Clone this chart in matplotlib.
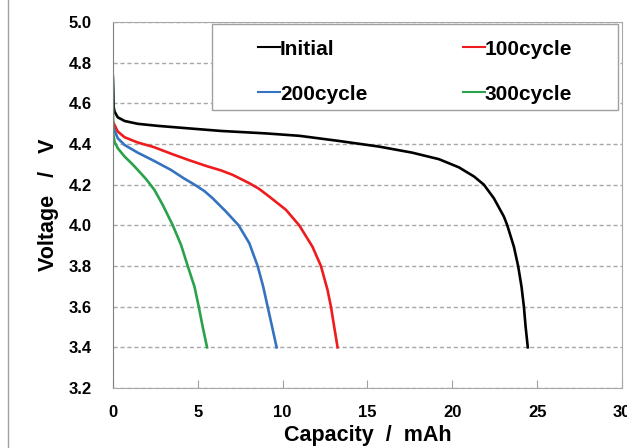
# discharge curves: capacity fade over cycling
import matplotlib
matplotlib.use("Agg")
import matplotlib.pyplot as plt
from matplotlib.lines import Line2D
from matplotlib.patches import Rectangle

plt.rcParams['font.family'] = ['Liberation Sans', 'DejaVu Sans']

# capacity (mAh) / voltage (V)
cap_initial = [0.0, 0.05, 0.1, 0.29, 0.69, 1.47, 2.65, 4.41, 6.37, 9.0, 11.0, 13.3, 15.69, 17.65, 19.22,
               20.39, 21.28, 21.86, 22.45, 23.04, 23.24, 23.63, 23.88, 24.08, 24.22, 24.32, 24.45]
v_initial = [4.735, 4.58, 4.559, 4.531, 4.513, 4.499, 4.489, 4.477, 4.464, 4.452, 4.44, 4.415, 4.387, 4.357, 4.325,
             4.285, 4.24, 4.20, 4.133, 4.043, 4.00, 3.895, 3.80, 3.698, 3.60, 3.502, 3.40]

cap_100 = [0.0, 0.29, 0.69, 1.47, 2.4, 3.5, 4.5, 5.49, 6.37, 7.06, 8.04, 8.6, 9.22, 10.2, 10.98, 11.76,
           12.26, 12.65, 12.85, 13.04, 13.24]
v_100 = [4.51, 4.461, 4.433, 4.407, 4.385, 4.35, 4.32, 4.292, 4.27, 4.248, 4.207, 4.18, 4.141, 4.076, 4.00, 3.895,
         3.80, 3.682, 3.60, 3.502, 3.40]

cap_200 = [0.0, 0.29, 0.69, 1.47, 2.4, 3.43, 4.2, 4.81, 5.4, 5.88, 6.67, 7.41, 8.04, 8.53, 8.86, 9.12, 9.38, 9.65]
v_200 = [4.486, 4.428, 4.395, 4.357, 4.318, 4.272, 4.23, 4.20, 4.168, 4.133, 4.067, 4.00, 3.912, 3.80, 3.698, 3.60,
         3.502, 3.40]

cap_300 = [0.0, 0.02, 0.1, 0.29, 0.69, 1.1, 1.47, 1.95, 2.45, 2.94, 3.53, 4.02, 4.41, 4.81, 5.06, 5.29, 5.55]
v_300 = [4.715, 4.45, 4.41, 4.379, 4.338, 4.305, 4.272, 4.228, 4.174, 4.10, 4.00, 3.903, 3.80, 3.698, 3.60, 3.502,
         3.40]

fig = plt.figure(figsize=(6.27, 4.48), dpi=100)
ax = fig.add_axes([0.180, 0.134, 0.812, 0.817])

ax.plot(cap_initial, v_initial, color='black', lw=1.9, label='Initial')
ax.plot(cap_100, v_100, color='#ee1c1c', lw=1.9, label='100cycle')
ax.plot(cap_200, v_200, color='#3573c0', lw=1.9, label='200cycle')
ax.plot(cap_300, v_300, color='#2aa24a', lw=1.9, label='300cycle')

ax.set_xlim(0, 30)
ax.set_ylim(3.2, 5.0)
ax.set_xticks([0, 5, 10, 15, 20, 25, 30])
ax.set_yticks([3.2, 3.4, 3.6, 3.8, 4.0, 4.2, 4.4, 4.6, 4.8, 5.0])
ax.set_yticklabels(['3.2', '3.4', '3.6', '3.8', '4.0', '4.2', '4.4', '4.6', '4.8', '5.0'])
ax.tick_params(axis='x', direction='in', length=6, color='#a0a0a0', pad=12, labelsize=12)
ax.tick_params(axis='y', length=0, pad=15, labelsize=12)
for lbl in ax.get_xticklabels() + ax.get_yticklabels():
    lbl.set_fontweight('bold')

ax.yaxis.grid(True, linestyle=(0, (3, 2)), color='#a8a8a8', lw=1.0)
ax.set_axisbelow(True)
for s in ['top', 'right', 'bottom']:
    ax.spines[s].set_color('#a8a8a8')
ax.spines['left'].set_color('#808080')

ax.set_xlabel('Capacity  /  mAh', fontsize=15.5, fontweight='bold', labelpad=4)
ax.set_ylabel('Voltage   /   V', fontsize=15.5, fontweight='bold', labelpad=7)

# legend box drawn separately so the entries can sit inside it with wide margins
ax.add_patch(Rectangle((0.194, 0.760), 0.798, 0.235, transform=ax.transAxes,
                       facecolor='white', edgecolor='#a0a0a0', lw=1.0, zorder=3))
h, l = ax.get_legend_handles_labels()
order = [0, 2, 1, 3]  # Initial, 200cycle | 100cycle, 300cycle (column-major)
leg = ax.legend([h[i] for i in order], [l[i] for i in order], ncol=2,
                loc='upper left', bbox_to_anchor=(0.285, 0.952),
                frameon=False, fontsize=15, handlelength=1.05, handletextpad=0.0,
                borderaxespad=0, borderpad=0, labelspacing=1.25, columnspacing=4.6)
leg.set_zorder(4)
for t in leg.get_texts():
    t.set_fontweight('bold')
for ln in leg.get_lines():
    ln.set_linewidth(1.5)

# outer chart border on the left
fig.add_artist(Line2D([8 / 627, 8 / 627], [0, 1], color='#a0a0a0', lw=1.0))

fig.savefig('out.png', dpi=100)
